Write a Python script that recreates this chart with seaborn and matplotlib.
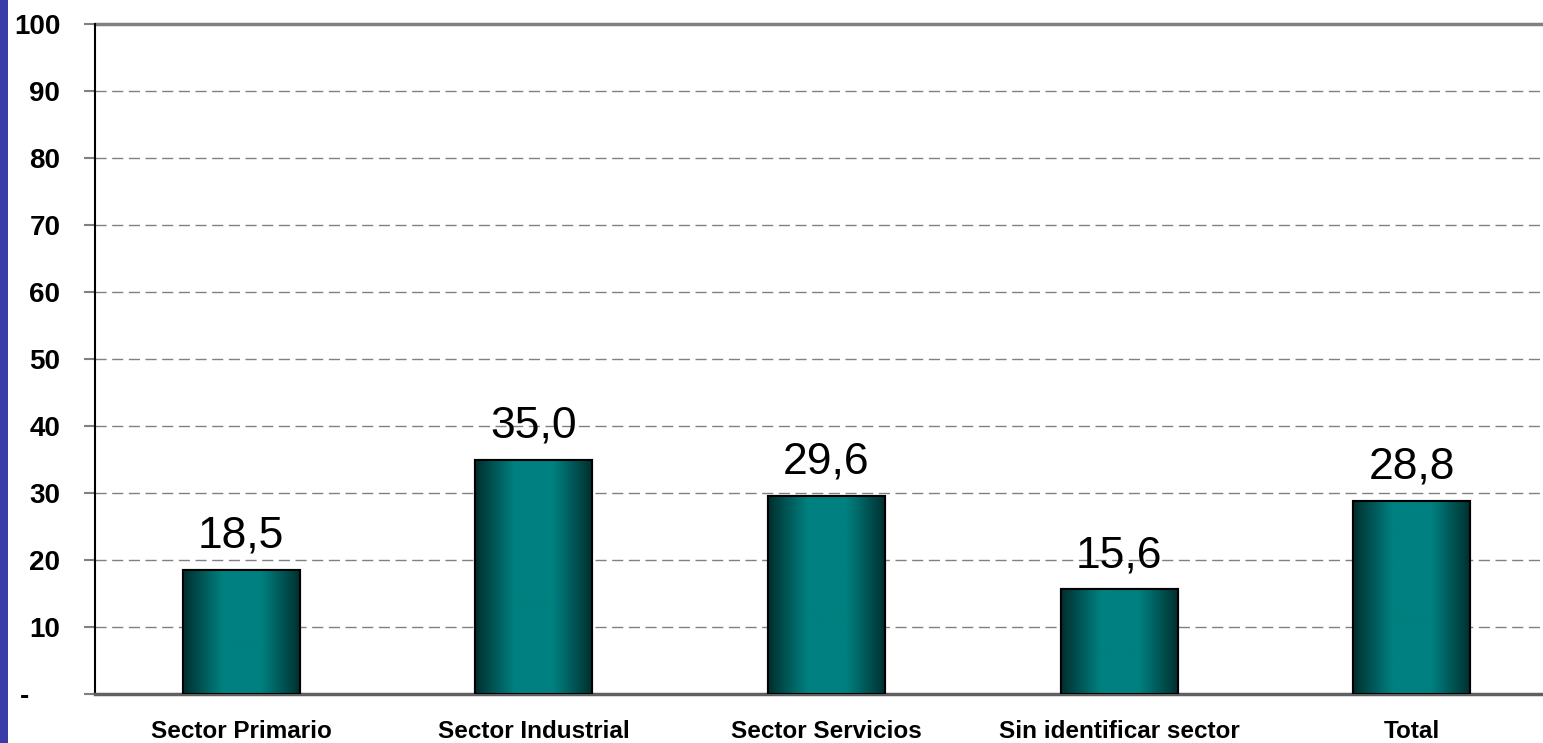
import numpy as np
import pandas as pd
import matplotlib
matplotlib.use('Agg')
import matplotlib.pyplot as plt
from matplotlib.colors import LinearSegmentedColormap
from matplotlib.patches import Rectangle
import seaborn as sns

# datos
sectores = ['Sector Primario', 'Sector Industrial', 'Sector Servicios',
            'Sin identificar sector', 'Total']
valores = [18.5, 35.0, 29.6, 15.6, 28.8]
etiquetas = ['18,5', '35,0', '29,6', '15,6', '28,8']
yticks = [0, 10, 20, 30, 40, 50, 60, 70, 80, 90, 100]
ytick_labels = ['-    ', '10', '20', '30', '40', '50', '60', '70', '80', '90', '100']

df = pd.DataFrame({'sector': sectores, 'valor': valores})

sns.set_style('white')
plt.rcParams['font.family'] = ['Liberation Sans', 'DejaVu Sans']

fig = plt.figure(figsize=(15.43, 7.43), dpi=100)
ax = fig.add_axes([95 / 1543, 49 / 743, 1463 / 1543, 670 / 743])

sns.barplot(data=df, x='sector', y='valor', color='#008080', width=0.4,
            edgecolor='black', linewidth=1.5, saturation=1, ax=ax, zorder=3)

# degradado horizontal en las barras
cmap = LinearSegmentedColormap.from_list('teal', ['#002e2e', '#008080', '#008080', '#002e2e'])
grad = np.linspace(0, 1, 256).reshape(1, -1)
for p in ax.patches:
    x0, y0 = p.get_x(), p.get_y()
    w, h = p.get_width(), p.get_height()
    im = ax.imshow(grad, cmap=cmap, aspect='auto', extent=[x0, x0 + w, y0, y0 + h],
                   zorder=3.5, interpolation='bicubic')
    im.set_clip_path(p)
    ax.add_patch(Rectangle((x0, y0), w, h, fill=False, edgecolor='black', linewidth=1.5, zorder=4))

for i, (v, t) in enumerate(zip(valores, etiquetas)):
    ax.text(i, v + 2, t, ha='center', va='bottom', fontsize=32, color='black', zorder=5)

ax.set_xlim(-0.5, 4.5)
ax.set_ylim(0, 100)
ax.set_yticks(yticks)
ax.set_yticklabels(ytick_labels, fontsize=20, fontweight='bold', color='black')
ax.set_xticklabels(sectores, fontsize=17.5, fontweight='bold', color='black')
ax.set_xlabel('')
ax.set_ylabel('')

ax.set_xticks([0.5, 1.5, 2.5, 3.5], minor=True)
ax.tick_params(axis='x', which='major', length=0, pad=19)
ax.tick_params(axis='x', which='minor', length=7, width=1.2, color='black', direction='out')
ax.tick_params(axis='y', length=8, width=1.5, color='#808080', direction='out', pad=17, left=True)

for y in yticks[1:-1]:
    ax.axhline(y, color='#808080', linestyle=(0, (8, 4)), linewidth=1, zorder=1)
ax.axhline(100, color='#808080', linewidth=2.5, zorder=1, clip_on=False)

for s in ['top', 'right']:
    ax.spines[s].set_visible(False)
ax.spines['left'].set_color('black')
ax.spines['left'].set_linewidth(1.5)
ax.spines['bottom'].set_color('#606060')
ax.spines['bottom'].set_linewidth(2.5)

# franja azul a la izquierda
fig.patches.append(Rectangle((0, 0), 8 / 1543, 1, transform=fig.transFigure,
                             facecolor='#3c3ca8', edgecolor='none'))

fig.savefig('out.png', dpi=100)
